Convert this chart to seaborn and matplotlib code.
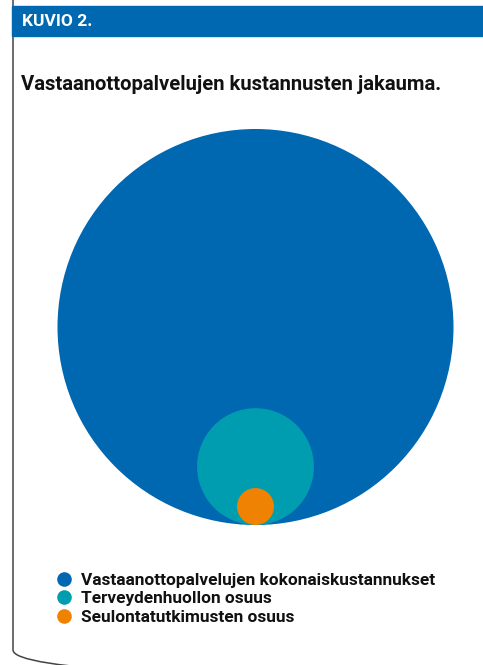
import matplotlib.pyplot as plt
import seaborn as sns
from matplotlib.patches import Circle, Rectangle, FancyBboxPatch
from matplotlib.lines import Line2D
from matplotlib import font_manager

sns.set_theme(style="white")
names = [f.name for f in font_manager.fontManager.ttflist]
narrow = "Liberation Sans Narrow" if "Liberation Sans Narrow" in names else "Roboto"
plt.rcParams['font.family'] = [narrow, 'DejaVu Sans']

# data
labels = ["Vastaanottopalvelujen kokonaiskustannukset",
          "Terveydenhuollon osuus",
          "Seulontatutkimusten osuus"]
values = [100, 8.7, 0.87]
colors = ["#0067b1", "#009db0", "#ef8200"]

header = "KUVIO 2."
title = "Vastaanottopalvelujen kustannusten jakauma."

fig = plt.figure(figsize=(4.83, 6.65), dpi=100)
ax = fig.add_axes([0, 0, 1, 1])
ax.set_xlim(0, 483)
ax.set_ylim(665, 0)
ax.axis("off")

# frame: only the left edge and the bottom-left corner show in the picture
ax.add_patch(FancyBboxPatch((13, -40), 600, 720, boxstyle="round,pad=0,rounding_size=30",
                            fill=False, edgecolor="#444444", linewidth=1.1))
ax.add_patch(Rectangle((12, 6), 480, 30, color="#0068b1", zorder=3))
ax.text(22, 22, header, color="white", fontsize=12.5, fontweight="bold",
        va="center", ha="left", zorder=4)
ax.text(21, 84, title, color="#111111", fontsize=14.6, fontweight="bold",
        va="center", ha="left")

# nested circles, bottom-aligned, area ~ value
scale = 198 / values[0] ** 0.5
cx, bottom = 255.5, 525
for v, c in zip(values, colors):
    r = scale * v ** 0.5
    ax.add_patch(Circle((cx, bottom - r), r, color=c, linewidth=0))

handles = [Line2D([], [], marker="o", linestyle="", markersize=10.5,
                  markerfacecolor=c, markeredgewidth=0) for c in colors]
leg = ax.legend(handles, labels, loc="upper left", bbox_to_anchor=(47 / 483, 1 - 564 / 665),
                frameon=False, handletextpad=0.5, labelspacing=0.2, borderpad=0,
                handlelength=1.0, prop={"size": 12.4, "weight": "bold"})
for t in leg.get_texts():
    t.set_color("#111111")

fig.savefig("out.png", dpi=100)
